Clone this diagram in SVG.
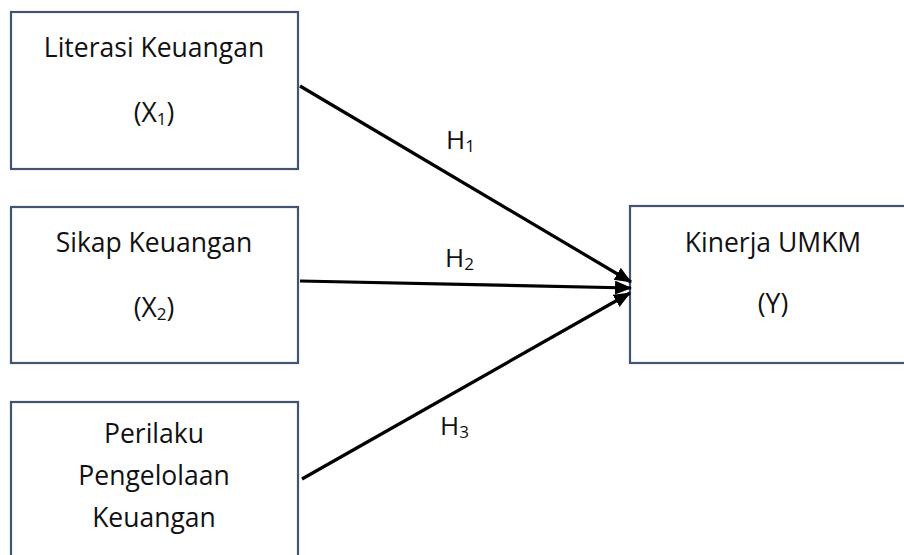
<svg xmlns="http://www.w3.org/2000/svg" width="904" height="555" viewBox="0 0 904 555">
<style>
.box{fill:#ffffff;stroke:#41556f;stroke-width:2.2}
.t{font-family:"Open Sans","Liberation Sans",sans-serif;font-size:26.5px;fill:#111111;text-anchor:middle}
.lbl{font-family:"Open Sans","Liberation Sans",sans-serif;font-size:26px;fill:#111111}
.sub{font-size:17px}
.edge{stroke:#000000;stroke-width:3.2;fill:none}
</style>
<defs>
<marker id="ah" markerUnits="userSpaceOnUse" markerWidth="18" markerHeight="16" refX="16" refY="7" orient="auto">
<path d="M0,0 L17,7 L0,14 z" fill="#000000"/>
</marker>
</defs>
<rect x="0" y="0" width="904" height="555" fill="#ffffff"/>
<g id="node-x1">
<rect class="box" x="11" y="12" width="287" height="157"/>
<text class="t" x="154" y="57">Literasi Keuangan</text>
<text class="t" x="154" y="122">(X<tspan class="sub" dy="3">1</tspan><tspan dy="-3">)</tspan></text>
</g>
<g id="node-x2">
<rect class="box" x="11" y="207" width="287" height="156"/>
<text class="t" x="154" y="252">Sikap Keuangan</text>
<text class="t" x="154" y="317">(X<tspan class="sub" dy="3">2</tspan><tspan dy="-3">)</tspan></text>
</g>
<g id="node-x3">
<rect class="box" x="11" y="402" width="287" height="170"/>
<text class="t" x="154" y="443">Perilaku</text>
<text class="t" x="154" y="485">Pengelolaan</text>
<text class="t" x="154" y="527">Keuangan</text>
</g>
<g id="node-y">
<rect class="box" x="630" y="206" width="290" height="157"/>
<text class="t" x="773" y="252">Kinerja UMKM</text>
<text class="t" x="773" y="313">(Y)</text>
</g>
<g id="connectors">
<line class="edge" x1="300" y1="86" x2="631" y2="282" marker-end="url(#ah)"/>
<line class="edge" x1="300" y1="281" x2="631" y2="288" marker-end="url(#ah)"/>
<line class="edge" x1="302" y1="479" x2="630" y2="293" marker-end="url(#ah)"/>
<text class="lbl" x="446" y="149">H<tspan class="sub" dy="3">1</tspan></text>
<text class="lbl" x="445" y="267">H<tspan class="sub" dy="3">2</tspan></text>
<text class="lbl" x="440" y="435">H<tspan class="sub" dy="3">3</tspan></text>
</g>
</svg>
